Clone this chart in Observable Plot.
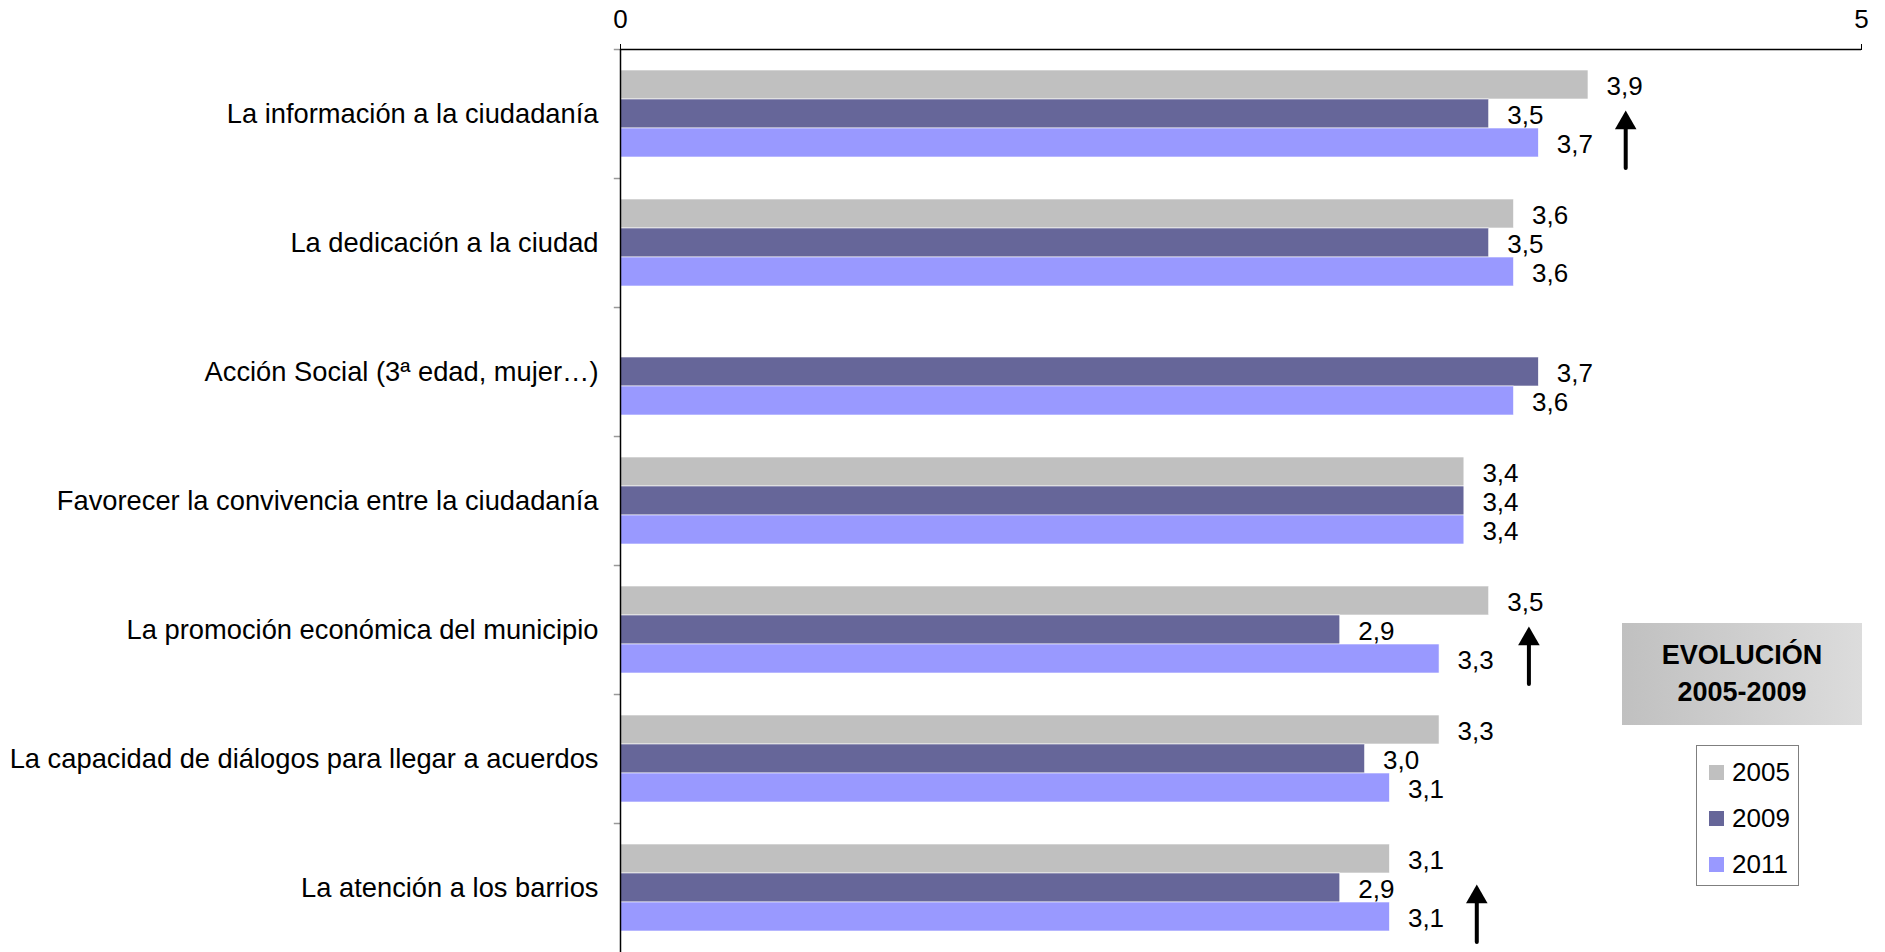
<!DOCTYPE html>
<html>
<head>
<meta charset="utf-8">
<script src="https://cdn.jsdelivr.net/npm/d3@7"></script>
<script src="https://cdn.jsdelivr.net/npm/@observablehq/plot@0.6"></script>
<style>
  html, body { margin: 0; padding: 0; background: #fff; overflow: hidden; }
  #wrap { position: relative; width: 1885px; height: 952px; font-family: "Liberation Sans", Arial, sans-serif; }
  #evo { position: absolute; left: 1622px; top: 623px; width: 240px; height: 102px;
         background: linear-gradient(to right, #c0c0c0, #dcdcdc);
         display: flex; align-items: center; justify-content: center; text-align: center;
         font-weight: bold; font-size: 27px; line-height: 37px; color: #000; }
  #legend { position: absolute; left: 1696px; top: 745px; width: 103px; height: 141px;
            border: 1.5px solid #7f7f7f; box-sizing: border-box; padding: 3px 0 0 12px; }
  .item { display: flex; align-items: center; height: 46px; font-size: 26px; }
  .sw { width: 15px; height: 15px; margin-right: 8px; }
</style>
</head>
<body>
<div id="wrap">
  <div id="chart"></div>
  <div id="evo">EVOLUCIÓN<br>2005-2009</div>
  <div id="legend"></div>
</div>
<script>
const categories = [
  "La información a la ciudadanía",
  "La dedicación a la ciudad",
  "Acción Social (3ª edad, mujer…)",
  "Favorecer la convivencia entre la ciudadanía",
  "La promoción económica del municipio",
  "La capacidad de diálogos para llegar a acuerdos",
  "La atención a los barrios"
];
const years = ["2005", "2009", "2011"];
const values2005 = [3.9, 3.6, null, 3.4, 3.5, 3.3, 3.1];
const values2009 = [3.5, 3.5, 3.7, 3.4, 2.9, 3.0, 2.9];
const values2011 = [3.7, 3.6, 3.6, 3.4, 3.3, 3.1, 3.1];
const colors = ["#c0c0c0", "#666699", "#9999ff"];
const xTicks = [0, 5];
// up-arrow annotations (category, x position in value units)
const arrowCategories = [categories[0], categories[4], categories[6]];
const arrowX = [4.05, 3.66, 3.45];

const series = [values2005, values2009, values2011];
const rows = [];
categories.forEach((c, i) => {
  years.forEach((y, j) => {
    const v = series[j][i];
    if (v != null) rows.push({category: c, year: y, value: v});
  });
});
const arrows = arrowCategories.map((c, i) => ({category: c, x: arrowX[i]}));

const W = 1885, H = 952, mTop = 48, mLeft = 620, mRight = 24;
const facetH = (H - mTop) / categories.length;
const padOuter = 0.72;
const step = facetH / (years.length + 2 * padOuter);
const topOffset = padOuter * step + step / 2;

const fmt = v => v.toFixed(1).replace(".", ",");

const chart = Plot.plot({
  width: W,
  height: H,
  marginTop: mTop,
  marginLeft: mLeft,
  marginRight: mRight,
  marginBottom: 0,
  style: {fontFamily: "'Liberation Sans', Arial, sans-serif", fontSize: "26px", color: "#000", background: "#fff"},
  x: {domain: [0, 5], axis: "top", ticks: xTicks, tickFormat: d => String(d), tickSize: 6, tickPadding: 16, label: null},
  y: {domain: years, axis: null, paddingInner: 0, paddingOuter: padOuter},
  fy: {domain: categories, padding: 0, axis: null},
  color: {domain: years, range: colors},
  marks: [
    Plot.axisFy({anchor: "left", tickSize: 0, tickPadding: 22, label: null, fontSize: 27.3}),
    Plot.barX(rows, {fy: "category", y: "year", x: "value", fill: "year", stroke: "#fff", strokeWidth: 0.6}),
    Plot.text(rows, {fy: "category", y: "year", x: "value", text: d => fmt(d.value), textAnchor: "start", dx: 18, dy: 2, fill: "#000"}),
    // category boundary ticks
    Plot.ruleY(categories, {fy: d => d, y: () => years[0], dy: -topOffset, x1: () => -0.025, x2: () => 0, stroke: "#999", strokeWidth: 1.5}),
    // top axis line
    Plot.ruleY([categories[0]], {fy: d => d, y: () => years[0], dy: -topOffset, x1: () => 0, x2: () => 5, stroke: "#000", strokeWidth: 1.5}),
    Plot.ruleX([0], {stroke: "#000", strokeWidth: 1.5}),
    // arrows
    Plot.arrow(arrows, {fy: "category", x1: "x", x2: "x", y1: () => "2011", y2: () => "2009",
      insetStart: -25, insetEnd: 8, headLength: 0, stroke: "#000", strokeWidth: 4}),
    Plot.dot(arrows, {fy: "category", x: "x", y: () => "2009", symbol: "triangle", r: 8, dy: 9, fill: "#000", stroke: "none"})
  ]
});
document.getElementById("chart").appendChild(chart);

const legend = document.getElementById("legend");
years.forEach((y, i) => {
  const it = document.createElement("div");
  it.className = "item";
  it.innerHTML = `<span class="sw" style="background:${colors[i]}"></span><span>${y}</span>`;
  legend.appendChild(it);
});
</script>
</body>
</html>
